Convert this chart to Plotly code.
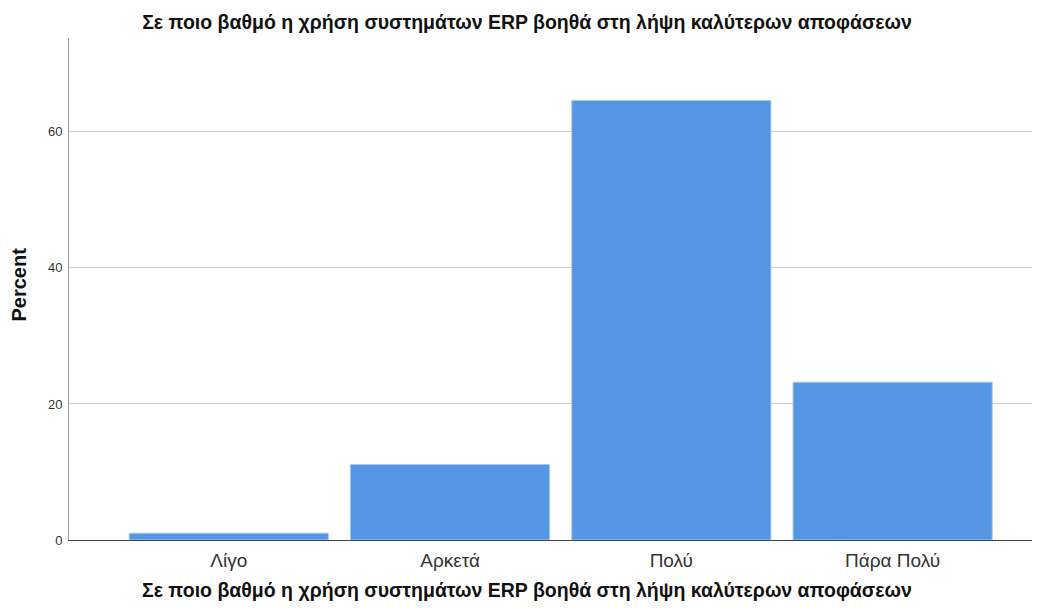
import plotly.graph_objects as go

categories = ["Λίγο", "Αρκετά", "Πολύ", "Πάρα Πολύ"]
percent = [1.0, 11.1, 64.6, 23.2]
y_ticks = [0, 20, 40, 60]
title_text = "Σε ποιο βαθμό η χρήση συστημάτων ERP βοηθά στη λήψη καλύτερων αποφάσεων"

font_family = "Liberation Sans, Arial, sans-serif"
positions = list(range(len(categories)))

fig = go.Figure(
    go.Bar(
        x=positions,
        y=percent,
        width=0.9,
        marker=dict(color="#5596e4", line=dict(color="#a9c9f1", width=1)),
        hoverinfo="skip",
    )
)

# page body has an 8px default margin, so the figure is sized/offset accordingly
W, H = 1032, 602
L, R, T, B = 61, 0, 30, 70
PW, PH = W - L - R, H - T - B

fig.update_layout(
    width=W,
    height=H,
    margin=dict(l=L, r=R, t=T, b=B),
    paper_bgcolor="white",
    plot_bgcolor="white",
    showlegend=False,
    font=dict(family=font_family, color="#222"),
    title=dict(
        text="<b>" + title_text + "</b>",
        x=519 / W,
        xref="container",
        xanchor="center",
        y=1 - 14 / H,
        yref="container",
        yanchor="middle",
        font=dict(size=19.5, color="#111", family=font_family),
    ),
    xaxis=dict(
        range=[-0.722, 3.666],
        tickvals=positions,
        ticktext=categories,
        showgrid=False,
        zeroline=False,
        showline=True,
        linecolor="#444",
        linewidth=1,
        ticks="",
        ticklabelstandoff=3,
        tickfont=dict(size=19, color="#333", family=font_family),
        fixedrange=True,
    ),
    yaxis=dict(
        range=[0, 73.8],
        tickvals=y_ticks,
        showgrid=True,
        gridcolor="#cccccc",
        gridwidth=1,
        zeroline=False,
        showline=True,
        linecolor="#999",
        linewidth=1,
        ticks="",
        ticklabelstandoff=3,
        tickfont=dict(size=13, color="#333", family=font_family),
        fixedrange=True,
    ),
    annotations=[
        dict(
            text="<b>" + title_text + "</b>",
            xref="paper",
            yref="paper",
            x=(519 - L) / PW,
            y=-(582 - (H - B)) / PH,
            xanchor="center",
            yanchor="middle",
            showarrow=False,
            font=dict(size=19.5, color="#111", family=font_family),
        ),
        dict(
            text="<b>Percent</b>",
            xref="paper",
            yref="paper",
            x=-(L - 10.5) / PW,
            y=(H - B - 277) / PH,
            xanchor="center",
            yanchor="middle",
            textangle=-90,
            showarrow=False,
            font=dict(size=20, color="#111", family=font_family),
        ),
    ],
)

fig.write_html("out.html")
